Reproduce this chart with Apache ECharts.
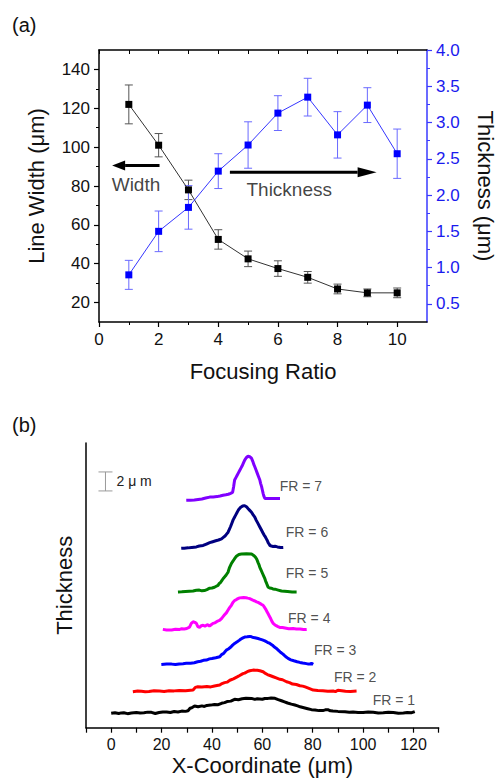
<!DOCTYPE html>
<html><head><meta charset="utf-8">
<script src="https://cdn.jsdelivr.net/npm/echarts@6/dist/echarts.min.js"></script>
<style>html,body{margin:0;padding:0;background:#fff}#c{width:504px;height:779px}</style>
</head><body><div id="c"></div>
<script>
// ---------- Panel (a) data ----------
const ratios = [1, 2, 3, 4, 5, 6, 7, 8, 9, 10];
const widthVals = [122, 101, 78, 52.5, 42.5, 37.5, 33, 27, 25, 25];
const widthErr = [10, 6, 5, 5, 4, 4, 3, 2.5, 2, 2.5];
const thickVals = [0.9, 1.5, 1.83, 2.33, 2.69, 3.13, 3.35, 2.83, 3.24, 2.57];
const thickErr = [0.2, 0.28, 0.3, 0.24, 0.32, 0.24, 0.26, 0.32, 0.24, 0.34];
const ratioTicks = [0, 2, 4, 6, 8, 10];
const ratioMinorTicks = [1, 3, 5, 7, 9];
const widthTicks = [20, 40, 60, 80, 100, 120, 140];
const widthMinorTicks = [30, 50, 70, 90, 110, 130];
const thickTicks = [0.5, 1.0, 1.5, 2.0, 2.5, 3.0, 3.5, 4.0];
const thickMinorTicks = [0.75, 1.25, 1.75, 2.25, 2.75, 3.25, 3.75];
// annotation arrows: [xStart, xEnd(tip), y on width axis]
const annotArrows = [[2.03, 0.44, 90.6], [4.39, 9.31, 87.1]];
const annotTexts = ['Width', 'Thickness'];
const annotTextPos = [[1.24, 80.8], [6.38, 78.0]];

// ---------- Panel (b) data (profiles, x in µm, y = thickness + stacking offset in µm) ----------
const fr1 = [[0,1.52],[1.5,1.58],[3,1.5],[4,1.56],[5,1.58],[6.5,1.48],[8,1.55],[10,1.6],[11.5,1.54],[13,1.58],[14.5,1.64],[16,1.62],[17.5,1.5],[19,1.6],[20.5,1.66],[22,1.65],[23.5,1.6],[25,1.7],[26.5,1.66],[28,1.75],[29.5,1.72],[30.5,1.79],[31.3,2.05],[32,2.1],[33.1,2.28],[34.5,2.2],[36,2.3],[37,2.24],[38,2.35],[39.5,2.38],[41,2.45],[42.5,2.42],[43.8,2.57],[45,2.64],[46,2.75],[47.5,2.8],[49,2.99],[50.5,2.95],[52,3.05],[53.5,3.1],[55.7,3.09],[57,2.98],[58,3.05],[60,3.0],[61,3.08],[62.3,3.09],[63.5,3.14],[65,3.1],[66.3,2.96],[67.6,2.84],[68.8,2.72],[70,2.6],[71.5,2.48],[72.9,2.39],[74,2.3],[75,2.2],[76.5,2.1],[78,2.0],[79.5,1.9],[80.9,1.86],[82.5,1.8],[84,1.8],[85,1.88],[86,1.9],[87,1.78],[88,1.75],[90,1.72],[92.8,1.68],[94.5,1.64],[96,1.65],[98,1.6],[100,1.6],[102,1.66],[104,1.62],[106,1.55],[108,1.58],[110,1.64],[112,1.6],[114,1.52],[116,1.55],[117.5,1.6],[119.3,1.58],[120.5,1.7]];
const fr2 = [[8.6,3.79],[10.5,3.86],[12,3.85],[13.5,3.8],[15,3.82],[17,3.9],[19.2,3.86],[21,3.82],[23,3.9],[25,3.88],[27,3.92],[29.5,3.9],[32.5,3.97],[33.4,4.25],[34.4,4.32],[36,4.3],[38,4.35],[39.5,4.3],[41,4.4],[42,4.45],[43.1,4.5],[44,4.65],[45,4.75],[46,4.8],[47.1,5.0],[48.5,5.15],[50,5.35],[51,5.5],[52.3,5.7],[53,5.75],[54,5.9],[55,6.0],[56.3,6.07],[58,6.05],[59,6.0],[60.3,5.9],[61,5.75],[62,5.6],[63,5.5],[64.3,5.37],[65.5,5.25],[67,5.1],[68,5.05],[69.6,4.84],[70.8,4.75],[72,4.6],[73.5,4.55],[74.9,4.42],[76,4.38],[77,4.3],[78.5,4.15],[80.2,3.97],[82,3.92],[84,3.9],[86,3.84],[88.1,3.86],[89,3.8],[90,3.95],[91.5,3.9],[93,3.85],[95,3.82],[97.4,3.86]];
const fr3 = [[19.9,6.67],[22,6.72],[24,6.7],[25.5,6.65],[27,6.72],[28.5,6.75],[29.8,6.78],[31.5,6.8],[33,6.85],[34.3,6.95],[35.5,7.0],[36.6,7.1],[37.8,7.13],[39,7.25],[40,7.3],[41.5,7.38],[43.1,7.47],[43.8,7.7],[44.5,7.8],[45,7.95],[45.7,8.18],[46.5,8.3],[47.5,8.5],[48.2,8.7],[49,8.88],[50,9.05],[50.8,9.2],[51.5,9.35],[52.3,9.47],[53,9.55],[54,9.58],[55,9.62],[55.7,9.58],[56.5,9.5],[57.5,9.45],[58.3,9.4],[59,9.34],[60,9.25],[61,9.15],[62,9.0],[63,8.88],[64,8.7],[64.8,8.5],[65.6,8.35],[66.3,8.18],[67.2,7.95],[68.2,7.75],[69.2,7.5],[70.2,7.3],[71.3,7.15],[72.5,7.05],[73.8,6.95],[74.9,6.88],[76,6.82],[77.5,6.75],[78.3,6.7],[79,6.7],[79.5,6.78],[80.2,6.67]];
const fr4 = [[20.5,10.36],[22,10.3],[24,10.3],[25.5,10.38],[27.2,10.36],[28,10.42],[29,10.4],[30,10.45],[31.1,10.6],[31.8,11.0],[32.5,11.16],[33.2,11.1],[33.8,11.0],[34.4,10.65],[35.1,10.57],[35.8,10.75],[36.5,10.8],[37.2,10.7],[37.8,10.8],[38.4,10.85],[39,10.7],[39.7,10.85],[40.4,10.99],[41.2,11.05],[42,11.2],[43,11.3],[43.8,11.5],[44.4,11.7],[45,11.9],[45.7,12.1],[46.4,12.4],[47,12.65],[47.7,12.9],[48.3,13.2],[49,13.4],[49.7,13.5],[50.3,13.6],[51,13.68],[51.7,13.7],[52.6,13.72],[53.5,13.7],[54.2,13.65],[55,13.6],[55.8,13.5],[56.5,13.4],[57.1,13.35],[57.7,13.26],[58.3,13.2],[59,13.1],[59.6,13.0],[60.3,12.9],[60.8,12.7],[61.3,12.5],[61.8,12.25],[62.3,12.0],[62.8,11.75],[63.3,11.5],[63.8,11.2],[64.3,11.0],[64.9,10.85],[65.5,10.75],[66.2,10.65],[66.9,10.57],[68,10.55],[69,10.5],[70.5,10.42],[72.2,10.46],[73.5,10.4],[75,10.4],[76.3,10.34],[77.6,10.36]];
const fr5 = [[26.5,14.3],[28,14.32],[29.5,14.35],[31,14.38],[32.5,14.4],[33.8,14.48],[35,14.5],[36,14.42],[37,14.45],[38,14.55],[39.1,14.7],[40,14.72],[41,14.8],[41.7,14.9],[42.4,15.0],[42.9,15.2],[43.4,15.3],[43.9,15.5],[44.4,15.7],[44.9,15.85],[45.4,16.0],[45.9,16.2],[46.4,16.4],[47,16.9],[47.7,17.3],[48.2,17.5],[48.7,17.7],[49.2,17.9],[49.7,18.07],[50.7,18.25],[51.7,18.3],[53.7,18.32],[55.7,18.3],[56.3,18.2],[56.8,18.1],[57.3,17.95],[57.7,17.8],[58,17.6],[58.3,17.4],[58.7,17.15],[59,16.9],[59.5,16.6],[60,16.3],[60.5,16.0],[61,15.7],[61.3,15.45],[61.7,15.2],[62,15.0],[62.3,14.8],[62.9,14.72],[63.5,14.7],[64.2,14.62],[65,14.6],[66.3,14.5],[67.6,14.4],[68.8,14.38],[70,14.35],[71.8,14.3],[73.6,14.3]];
const fr6 = [[27.8,18.9],[29,18.92],[30.5,18.95],[32,19.0],[33.8,19.05],[35,19.15],[36.5,19.2],[37.8,19.35],[39.1,19.5],[40.3,19.6],[41.5,19.7],[42.6,19.78],[43.8,19.9],[44.5,20.05],[45.2,20.2],[45.8,20.4],[46.4,20.6],[46.9,20.9],[47.4,21.2],[47.9,21.55],[48.4,21.9],[48.9,22.15],[49.4,22.4],[49.9,22.65],[50.4,22.9],[50.8,23.05],[51.3,23.2],[51.8,23.3],[52.3,23.37],[52.8,23.4],[53.3,23.35],[53.8,23.25],[54.3,23.1],[55,22.9],[55.7,22.7],[56.3,22.45],[57.0,22.2],[57.6,21.85],[58.3,21.5],[59,21.15],[59.7,20.8],[60.2,20.55],[60.7,20.3],[61.2,20.1],[61.6,19.9],[62,19.7],[62.3,19.5],[62.7,19.35],[63.0,19.2],[63.6,19.15],[64.3,19.1],[65,19.12],[66,19.05],[67.2,18.98],[68.3,19.0]];
const fr7 = [[29.8,23.97],[31.4,23.98],[33,24.0],[34.5,24.05],[36,24.1],[37.5,24.2],[39.1,24.3],[40.5,24.32],[42,24.35],[43.2,24.42],[44.4,24.5],[45.5,24.55],[46.5,24.6],[47.4,24.7],[48.2,24.8],[48.4,25.1],[48.6,25.4],[48.8,25.75],[49.0,26.1],[49.5,26.35],[50,26.6],[50.5,26.85],[51.0,27.1],[51.5,27.35],[52,27.6],[52.5,27.9],[53.0,28.2],[53.6,28.45],[54.3,28.6],[55,28.55],[55.7,28.4],[56.0,28.2],[56.3,28.0],[56.6,27.75],[57.0,27.5],[57.5,27.15],[58,26.8],[58.5,26.45],[59.0,26.1],[59.3,25.75],[59.7,25.4],[60.0,25.05],[60.3,24.7],[60.6,24.4],[61.0,24.15],[62.5,24.15],[64,24.15],[65.5,24.15],[67.0,24.15]];
const profiles = [fr1, fr2, fr3, fr4, fr5, fr6, fr7];
const profileColors = ['#000000', '#ff0000', '#0000ff', '#ff00ff', '#008000', '#000080', '#8000ff'];
const frNames = ['FR = 1', 'FR = 2', 'FR = 3', 'FR = 4', 'FR = 5', 'FR = 6', 'FR = 7'];
const frLabelPos = [[103.8, 2.92], [88.4, 5.31], [80.5, 8.18], [70.2, 11.58], [69.3, 16.25], [69.3, 20.67], [66.9, 25.44]];
const xCoordTicks = [0, 20, 40, 60, 80, 100, 120];
const xCoordAllTicks = [-10, 0, 10, 20, 30, 40, 50, 60, 70, 80, 90, 100, 110, 120, 130];
// scale bar: [x, yLow, yHigh] (2 µm)
const scaleBar = [[-2.27, 24.95, 26.95]];
const scaleText = '2 \u03bc m';

const FONT = 'Liberation Sans, Arial, sans-serif';
const BLUE = '#1a1aee';

function errRender(color, half) {
  return function (params, api) {
    const x = api.value(0), lo = api.value(1), hi = api.value(2);
    const p1 = api.coord([x, hi]), p2 = api.coord([x, lo]);
    const st = { stroke: color, lineWidth: 1 };
    return { type: 'group', children: [
      { type: 'line', shape: { x1: p1[0], y1: p1[1], x2: p2[0], y2: p2[1] }, style: st },
      { type: 'line', shape: { x1: p1[0] - half, y1: p1[1], x2: p1[0] + half, y2: p1[1] }, style: st },
      { type: 'line', shape: { x1: p2[0] - half, y1: p2[1], x2: p2[0] + half, y2: p2[1] }, style: st }
    ]};
  };
}

function arrowRender(params, api) {
  const a = api.coord([api.value(0), api.value(2)]);
  const b = api.coord([api.value(1), api.value(2)]);
  const dir = Math.sign(b[0] - a[0]);
  const head = params.dataIndex === 0 ? 13 : 19;
  const hh = 5;
  const base = b[0] - dir * head;
  return { type: 'group', children: [
    { type: 'line', shape: { x1: a[0], y1: a[1], x2: base, y2: b[1] }, style: { stroke: '#000', lineWidth: 3 } },
    { type: 'polygon', shape: { points: [[b[0], b[1]], [base, b[1] - hh], [base, b[1] + hh]] }, style: { fill: '#000' } }
  ]};
}

function scaleRender(params, api) {
  const x = api.value(0);
  const p1 = api.coord([x, api.value(2)]), p2 = api.coord([x, api.value(1)]);
  const st = { stroke: '#9a9a9a', lineWidth: 1 };
  const h = 7;
  return { type: 'group', children: [
    { type: 'line', shape: { x1: p1[0], y1: p1[1], x2: p2[0], y2: p2[1] }, style: st },
    { type: 'line', shape: { x1: p1[0] - h, y1: p1[1], x2: p1[0] + h, y2: p1[1] }, style: st },
    { type: 'line', shape: { x1: p2[0] - h, y1: p2[1], x2: p2[0] + h, y2: p2[1] }, style: st },
    { type: 'text', style: { text: scaleText, x: p1[0] + 11, y: (p1[1] + p2[1]) / 2, verticalAlign: 'middle', align: 'left', fontSize: 14, fontFamily: FONT, fill: '#222' } }
  ]};
}

const chart = echarts.init(document.getElementById('c'), null, { renderer: 'svg' });

const series = [
  { type: 'custom', name: 'widthErr', xAxisIndex: 0, yAxisIndex: 0, renderItem: errRender('#555', 4), encode: { x: 0, y: [1, 2] },
    data: ratios.map((r, i) => [r, widthVals[i] - widthErr[i], widthVals[i] + widthErr[i]]), z: 2, silent: true },
  { type: 'custom', name: 'thickErr', xAxisIndex: 0, yAxisIndex: 1, renderItem: errRender('#6a6aff', 4), encode: { x: 0, y: [1, 2] },
    data: ratios.map((r, i) => [r, thickVals[i] - thickErr[i], thickVals[i] + thickErr[i]]), z: 2, silent: true },
  { type: 'line', name: 'Width', xAxisIndex: 0, yAxisIndex: 0, data: ratios.map((r, i) => [r, widthVals[i]]),
    symbol: 'rect', symbolSize: 7, lineStyle: { color: '#333', width: 1 }, itemStyle: { color: '#000' }, z: 3, animation: false },
  { type: 'line', name: 'Thickness', xAxisIndex: 0, yAxisIndex: 1, data: ratios.map((r, i) => [r, thickVals[i]]),
    symbol: 'rect', symbolSize: 7, lineStyle: { color: '#3535ff', width: 1 }, itemStyle: { color: '#0000ff' }, z: 3, animation: false },
  { type: 'custom', name: 'arrows', xAxisIndex: 0, yAxisIndex: 0, renderItem: arrowRender, encode: { x: [0, 1], y: 2 }, data: annotArrows, silent: true },
  { type: 'scatter', name: 'annotText', xAxisIndex: 0, yAxisIndex: 0, symbolSize: 0, data: annotTextPos, silent: true,
    label: { show: true, position: 'inside', formatter: p => annotTexts[p.dataIndex], fontSize: 19, color: '#111', fontFamily: FONT } },
  // panel (b)
  ...profiles.map((d, i) => ({ type: 'line', name: frNames[i], xAxisIndex: 2, yAxisIndex: 4, data: d, showSymbol: false, symbol: 'none',
    lineStyle: { color: profileColors[i], width: 3 }, animation: false })),
  { type: 'scatter', name: 'frLabels', xAxisIndex: 2, yAxisIndex: 4, symbolSize: 0, data: frLabelPos, silent: true,
    label: { show: true, position: 'right', distance: 0, formatter: p => frNames[p.dataIndex], fontSize: 14, color: '#222', fontFamily: FONT } },
  { type: 'custom', name: 'scalebar', xAxisIndex: 2, yAxisIndex: 4, renderItem: scaleRender, encode: { x: 0, y: [1, 2] }, data: scaleBar, silent: true }
];

const axisTxt = { color: '#111', fontFamily: FONT };

chart.setOption({
  animation: false,
  backgroundColor: '#fff',
  textStyle: { fontFamily: FONT },
  grid: [
    { left: 99, top: 50, width: 339.5, height: 272 },
    { left: 86, top: 443, width: 352.7, height: 284.7 }
  ],
  xAxis: [
    { gridIndex: 0, type: 'value', min: 0, max: 11, position: 'bottom',
      axisLine: { show: true, onZero: false, lineStyle: { color: '#000', width: 1.5 } },
      axisTick: { show: true, customValues: ratioTicks, length: 5, lineStyle: { color: '#000', width: 1.2 } },
      axisLabel: { customValues: ratioTicks, fontSize: 17, margin: 9, ...axisTxt },
      splitLine: { show: false },
      name: 'Focusing Ratio', nameLocation: 'middle', nameGap: 38, nameTextStyle: { fontSize: 22, ...axisTxt } },
    { gridIndex: 0, type: 'value', min: 0, max: 11, position: 'top',
      axisLine: { show: true, onZero: false, lineStyle: { color: '#000', width: 1.5 } },
      axisTick: { show: true, inside: true, customValues: ratioMinorTicks.concat(ratioTicks), length: 4, lineStyle: { color: '#000' } },
      axisLabel: { show: false }, splitLine: { show: false } },
    { gridIndex: 1, type: 'value', min: -10, max: 130, position: 'bottom',
      axisLine: { show: true, onZero: false, lineStyle: { color: '#000', width: 1.5 } },
      axisTick: { show: true, customValues: xCoordAllTicks, length: 5, lineStyle: { color: '#000', width: 1.2 } },
      axisLabel: { customValues: xCoordTicks, fontSize: 16, margin: 9, ...axisTxt },
      splitLine: { show: false },
      name: 'X-Coordinate (\u03bcm)', nameLocation: 'middle', nameGap: 27, nameTextStyle: { fontSize: 22, ...axisTxt } },
    // minor ticks for panel (a) bottom axis
    { gridIndex: 0, type: 'value', min: 0, max: 11, position: 'bottom',
      axisLine: { show: false, onZero: false },
      axisTick: { show: true, customValues: ratioMinorTicks, length: 3, lineStyle: { color: '#000' } },
      axisLabel: { show: false }, splitLine: { show: false } }
  ],
  yAxis: [
    { gridIndex: 0, type: 'value', min: 10, max: 150, position: 'left',
      axisLine: { show: true, onZero: false, lineStyle: { color: '#000', width: 1.5 } },
      axisTick: { show: true, customValues: widthTicks, length: 5, lineStyle: { color: '#000', width: 1.2 } },
      axisLabel: { customValues: widthTicks, fontSize: 17, margin: 9, ...axisTxt },
      splitLine: { show: false },
      name: 'Line Width (\u03bcm)', nameLocation: 'middle', nameGap: 52, nameTextStyle: { fontSize: 22, ...axisTxt } },
    { gridIndex: 0, type: 'value', min: 0.25, max: 4.0, position: 'right',
      axisLine: { show: true, onZero: false, lineStyle: { color: '#3a3aff', width: 1.5 } },
      axisTick: { show: true, customValues: thickTicks, length: 5, lineStyle: { color: '#3a3aff', width: 1.2 } },
      axisLabel: { customValues: thickTicks, fontSize: 17, margin: 9, color: BLUE, fontFamily: FONT, formatter: v => v.toFixed(1) },
      splitLine: { show: false },
      name: 'Thickness (\u03bcm)', nameLocation: 'middle', nameGap: 47, nameRotate: -90,
      nameTextStyle: { fontSize: 22, ...axisTxt } },
    { gridIndex: 0, type: 'value', min: 10, max: 150, position: 'left',
      axisLine: { show: false, onZero: false },
      axisTick: { show: true, customValues: widthMinorTicks, length: 3, lineStyle: { color: '#000' } },
      axisLabel: { show: false }, splitLine: { show: false } },
    { gridIndex: 0, type: 'value', min: 0.25, max: 4.0, position: 'right',
      axisLine: { show: false, onZero: false },
      axisTick: { show: true, customValues: thickMinorTicks, length: 3, lineStyle: { color: '#3a3aff' } },
      axisLabel: { show: false }, splitLine: { show: false } },
    { gridIndex: 1, type: 'value', min: 0, max: 30, position: 'left',
      axisLine: { show: true, onZero: false, lineStyle: { color: '#000', width: 1.5 } },
      axisTick: { show: false }, axisLabel: { show: false }, splitLine: { show: false },
      name: 'Thickness', nameLocation: 'middle', nameGap: 11, nameTextStyle: { fontSize: 22, ...axisTxt } }
  ],
  graphic: [
    { type: 'text', left: 12, top: 15, style: { text: '(a)', fontSize: 20, fontFamily: FONT, fill: '#111' } },
    { type: 'text', left: 12, top: 415, style: { text: '(b)', fontSize: 20, fontFamily: FONT, fill: '#111' } }
  ],
  series: series
});
</script></body></html>
